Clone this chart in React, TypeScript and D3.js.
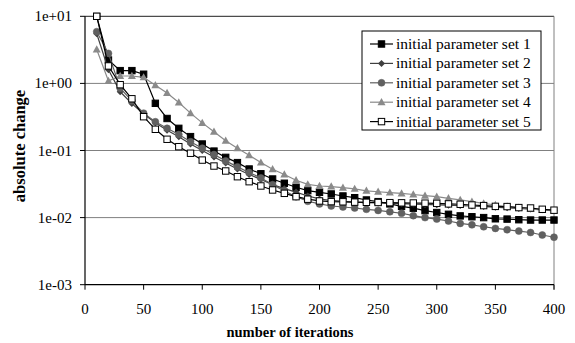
import React from 'react';
import * as d3 from 'd3';

const iterations = [10, 20, 30, 40, 50, 60, 70, 80, 90, 100, 110, 120, 130, 140, 150, 160, 170, 180, 190, 200,
  210, 220, 230, 240, 250, 260, 270, 280, 290, 300, 310, 320, 330, 340, 350, 360, 370, 380, 390, 400];

const set1 = [10, 2.23, 1.55, 1.55, 1.37, 0.505, 0.30, 0.214, 0.161, 0.125, 0.098, 0.079, 0.066, 0.053, 0.045, 0.0376,
  0.0325, 0.0283, 0.0252, 0.0238, 0.0225, 0.0210, 0.0198, 0.0183, 0.0173, 0.0160, 0.0147, 0.0138, 0.0127, 0.0119,
  0.0112, 0.0106, 0.0103, 0.0100, 0.0096, 0.0095, 0.0093, 0.0092, 0.0092, 0.0092];
const set2 = [5.5, 1.6, 0.75, 0.5, 0.35, 0.26, 0.2, 0.16, 0.125, 0.1, 0.08, 0.065, 0.053, 0.044, 0.037, 0.031,
  0.027, 0.024, 0.021, 0.019, 0.018, 0.0175, 0.017, 0.0167, 0.0165, 0.0163, 0.0161, 0.0159, 0.0157, 0.0155,
  0.0153, 0.0151, 0.0149, 0.0146, 0.0143, 0.0140, 0.0137, 0.0134, 0.0131, 0.0128];
const set3 = [5.9, 2.8, 0.85, 0.55, 0.36, 0.268, 0.214, 0.173, 0.135, 0.108, 0.087, 0.07, 0.057, 0.047, 0.039, 0.031,
  0.025, 0.0205, 0.0175, 0.016, 0.0149, 0.0144, 0.0139, 0.0133, 0.0128, 0.0122, 0.0116, 0.0107, 0.0100, 0.0095,
  0.0089, 0.0082, 0.0078, 0.0073, 0.0069, 0.0066, 0.0063, 0.0060, 0.0055, 0.0051];
const set4 = [3.2, 1.09, 1.29, 1.29, 1.23, 0.94, 0.72, 0.52, 0.36, 0.258, 0.19, 0.14, 0.108, 0.085, 0.066, 0.0525,
  0.044, 0.036, 0.0313, 0.0296, 0.029, 0.0279, 0.0268, 0.0251, 0.0243, 0.0236, 0.0229, 0.0221, 0.0212, 0.0205,
  0.0194, 0.0184, 0.0173, 0.0163, 0.0154, 0.0146, 0.0141, 0.0134, 0.0130, 0.0126];
const set5 = [10, 1.82, 0.957, 0.59, 0.319, 0.207, 0.147, 0.114, 0.091, 0.072, 0.0587, 0.0495, 0.0407, 0.0343, 0.0296,
  0.0258, 0.0230, 0.0205, 0.0188, 0.0177, 0.0173, 0.0172, 0.0170, 0.0169, 0.0168, 0.0167, 0.0166, 0.0165, 0.0164,
  0.0163, 0.0160, 0.0158, 0.0154, 0.0151, 0.0147, 0.0146, 0.0141, 0.0139, 0.0133, 0.0129];

const seriesNames = ['initial parameter set 1', 'initial parameter set 2', 'initial parameter set 3',
  'initial parameter set 4', 'initial parameter set 5'];
const xTicks = [0, 50, 100, 150, 200, 250, 300, 350, 400];
const yTicks = [1e1, 1, 1e-1, 1e-2, 1e-3];
const yTickLabels = ['1e+01', '1e+00', '1e-01', '1e-02', '1e-03'];
const xTitle = 'number of iterations';
const yTitle = 'absolute change';

const FONT = 'Liberation Serif';

type Style = { line: string; fill: string; stroke: string; shape: string };
const styles: Style[] = [
  { line: '#000000', fill: '#000000', stroke: '#000000', shape: 'square' },
  { line: '#404040', fill: '#404040', stroke: '#404040', shape: 'diamond' },
  { line: '#606060', fill: '#606060', stroke: '#606060', shape: 'circle' },
  { line: '#8a8a8a', fill: '#8a8a8a', stroke: '#8a8a8a', shape: 'triangle' },
  { line: '#000000', fill: '#ffffff', stroke: '#000000', shape: 'square' },
];

function Marker({ x, y, s }: { x: number; y: number; s: Style }) {
  if (s.shape === 'square') {
    return <rect x={x - 3.2} y={y - 3.2} width={6.4} height={6.4} fill={s.fill} stroke={s.stroke} strokeWidth={1} />;
  }
  if (s.shape === 'circle') {
    return <circle cx={x} cy={y} r={3.5} fill={s.fill} stroke={s.stroke} strokeWidth={0.5} />;
  }
  if (s.shape === 'diamond') {
    return <path d={`M${x},${y - 3.5}L${x + 3.5},${y}L${x},${y + 3.5}L${x - 3.5},${y}Z`} fill={s.fill} />;
  }
  return <path d={`M${x},${y - 4.2}L${x + 4},${y + 3}L${x - 4},${y + 3}Z`} fill={s.fill} />;
}

export default function App() {
  const W = 575, H = 343;
  const left = 85, right = 554, top = 16.3, bottom = 284.7;
  const x = d3.scaleLinear().domain([0, 400]).range([left, right]);
  const y = d3.scaleLog().domain([1e-3, 1e1]).range([bottom, top]);
  const data = [set1, set2, set3, set4, set5];
  const line = d3.line<number>().x((_, i) => x(iterations[i])).y((v) => y(v));

  const legX = 362, legY = 31, legW = 179, legH = 99;
  const legRow0 = 44, legStep = 19.4;
  const txt = { fontFamily: FONT };

  return (
    <svg width={W} height={H} style={{ position: 'absolute', left: 0, top: 0 }}>
      <rect width={W} height={H} fill="#fff" />
      <defs>
        <clipPath id="plot">
          <rect x={left} y={top - 4} width={right - left + 4} height={bottom - top + 4} />
        </clipPath>
      </defs>
      {yTicks.slice(1, 4).map((t) => (
        <line key={t} x1={left} x2={right} y1={y(t)} y2={y(t)} stroke="#808080" strokeWidth={1} />
      ))}
      <line x1={left} x2={right} y1={y(1e1)} y2={y(1e1)} stroke="#202020" strokeWidth={1} />
      <line x1={right} x2={right} y1={top} y2={bottom + 5} stroke="#808080" strokeWidth={1} />
      <g clipPath="url(#plot)">
        {data.map((d, k) => (
          <g key={k}>
            <path d={line(d) || ''} fill="none" stroke={styles[k].line} strokeWidth={1.2} />
            {d.map((v, i) => (
              <Marker key={i} x={x(iterations[i])} y={y(v)} s={styles[k]} />
            ))}
          </g>
        ))}
      </g>
      <line x1={left} x2={left} y1={top} y2={bottom} stroke="#000" strokeWidth={1.2} />
      <line x1={left} x2={right} y1={bottom} y2={bottom} stroke="#000" strokeWidth={1.2} />
      {yTicks.map((t, i) => (
        <g key={t}>
          <line x1={left - 5} x2={left} y1={y(t)} y2={y(t)} stroke="#000" />
          <text x={72} y={y(t) + 5} textAnchor="end" fontSize={15} style={txt}>{yTickLabels[i]}</text>
        </g>
      ))}
      {xTicks.map((t) => (
        <g key={t}>
          <line x1={x(t)} x2={x(t)} y1={bottom} y2={bottom + 5} stroke="#000" />
          <text x={x(t)} y={314} textAnchor="middle" fontSize={15} style={txt}>{t}</text>
        </g>
      ))}
      <text x={290} y={337} textAnchor="middle" fontSize={14.5} fontWeight="bold" style={txt}>{xTitle}</text>
      <text transform={`translate(25,146) rotate(-90)`} textAnchor="middle" fontSize={16.5} fontWeight="bold" style={txt}>{yTitle}</text>
      <rect x={legX} y={legY} width={legW} height={legH} fill="#fff" stroke="#000" strokeWidth={1} />
      {seriesNames.map((name, k) => {
        const yy = legRow0 + k * legStep;
        return (
          <g key={name}>
            <line x1={370} x2={393} y1={yy} y2={yy} stroke={styles[k].line} strokeWidth={1.2} />
            <Marker x={381.5} y={yy} s={styles[k]} />
            <text x={396} y={yy + 5} fontSize={15.5} style={txt}>{name}</text>
          </g>
        );
      })}
    </svg>
  );
}
